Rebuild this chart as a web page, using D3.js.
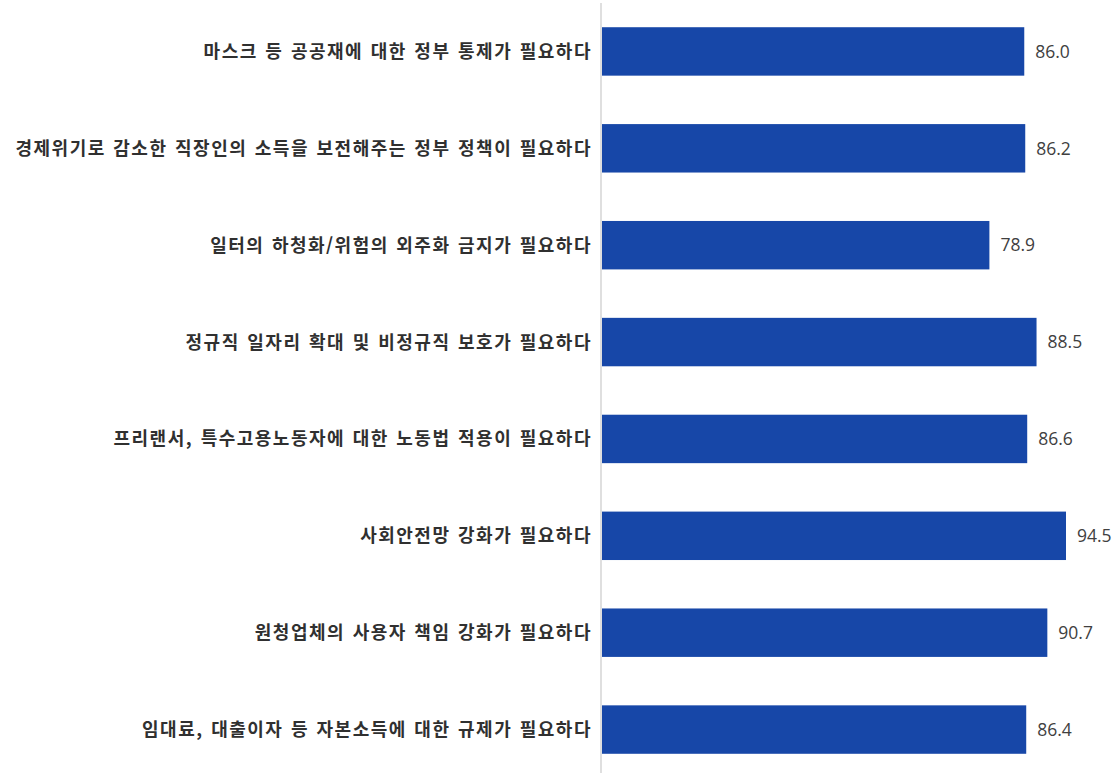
<!DOCTYPE html>
<html lang="ko">
<head>
<meta charset="utf-8">
<script src="https://cdn.jsdelivr.net/npm/d3@7"></script>
<style>
  html, body { margin: 0; padding: 0; background: #fff; }
  svg { display: block; }
  .cat { font-family: "Noto Sans CJK KR", sans-serif; font-weight: 700; font-size: 18px; letter-spacing: 1.5px; word-spacing: 1px; fill: #303030; }
  .val { font-family: "Open Sans", sans-serif; font-size: 17.5px; fill: #404040; }
</style>
</head>
<body>
<svg id="chart" width="1120" height="773"></svg>
<script>
// Survey items (top to bottom) and agreement rates (%)
const categories = [
  "마스크 등 공공재에 대한 정부 통제가 필요하다",
  "경제위기로 감소한 직장인의 소득을 보전해주는 정부 정책이 필요하다",
  "일터의 하청화/위험의 외주화 금지가 필요하다",
  "정규직 일자리 확대 및 비정규직 보호가 필요하다",
  "프리랜서, 특수고용노동자에 대한 노동법 적용이 필요하다",
  "사회안전망 강화가 필요하다",
  "원청업체의 사용자 책임 강화가 필요하다",
  "임대료, 대출이자 등 자본소득에 대한 규제가 필요하다"
];
const values = [86.0, 86.2, 78.9, 88.5, 86.6, 94.5, 90.7, 86.4];

const svg = d3.select("#chart");
const axisX = 602;

const x = d3.scaleLinear().domain([0, 100]).range([axisX, 1093]);
const y = d3.scaleBand().domain(categories).range([3, 778])
  .paddingInner(0.5).paddingOuter(0.25);

const data = categories.map((c, i) => ({ c, v: values[i] }));

// bars
svg.append("g").selectAll("rect").data(data).join("rect")
  .attr("x", x(0))
  .attr("y", d => y(d.c))
  .attr("width", d => x(d.v) - x(0))
  .attr("height", y.bandwidth())
  .attr("fill", "#1747a8");

// vertical category axis line
svg.append("line")
  .attr("x1", axisX - 1).attr("x2", axisX - 1)
  .attr("y1", 3).attr("y2", 773)
  .attr("stroke", "#d4d4d4").attr("stroke-width", 1.5);

// category labels (trailing letter-spacing offset compensated)
svg.append("g").selectAll("text").data(data).join("text")
  .attr("class", "cat")
  .attr("x", axisX - 10)
  .attr("y", d => y(d.c) + y.bandwidth() / 2)
  .attr("dy", "0.36em")
  .attr("text-anchor", "end")
  .text(d => d.c);

// value labels
svg.append("g").selectAll("text").data(data).join("text")
  .attr("class", "val")
  .attr("x", d => x(d.v) + 11)
  .attr("y", d => y(d.c) + y.bandwidth() / 2)
  .attr("dy", "0.36em")
  .text(d => d.v.toFixed(1));
</script>
</body>
</html>
